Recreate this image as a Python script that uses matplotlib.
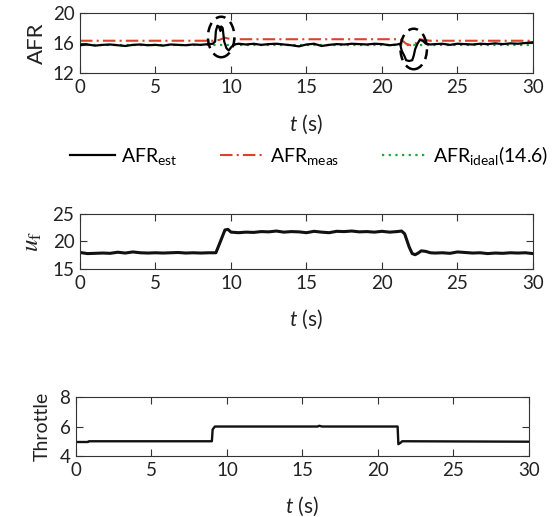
import matplotlib.pyplot as plt
from matplotlib.patches import Ellipse

# ── DATA ───────────────────────────────────────────────────
t_est = [0, 0.5, 1.0, 1.5, 2.0, 2.5, 3.0, 3.5, 4.0, 4.5, 5.0, 5.5, 6.0, 6.5,
         7.0, 7.5, 8.0, 8.5, 8.8, 8.95, 9.0, 9.1, 9.2, 9.3, 9.35, 9.45, 9.55,
         9.7, 9.85, 10.0, 10.2, 10.5, 11.0, 11.5, 12.0, 12.5, 13.0, 13.5,
         14.0, 14.5, 15.0, 15.5, 16.0, 16.5, 17.0, 17.5, 18.0, 18.5, 19.0,
         19.5, 20.0, 20.5, 21.0, 21.2, 21.3, 21.4, 21.5, 21.6, 21.8, 22.0,
         22.1, 22.2, 22.35, 22.5, 22.7, 22.9, 23.2, 23.5, 24.0, 24.5, 25.0,
         25.5, 26.0, 26.5, 27.0, 27.5, 28.0, 28.5, 29.0, 29.5, 30.0]
afr_est = [15.7, 15.8, 15.65, 15.75, 15.8, 15.7, 15.6, 15.75, 15.8, 15.7,
           15.75, 15.65, 15.8, 15.75, 15.7, 15.8, 15.75, 15.85, 15.9, 16.2,
           17.6, 18.3, 18.2, 17.6, 18.2, 18.0, 16.2, 15.3, 15.0, 15.4, 15.8,
           15.9, 15.8, 15.9, 15.75, 15.85, 15.9, 15.8, 15.7, 15.55, 15.8,
           15.9, 15.6, 15.75, 15.85, 15.8, 15.9, 15.85, 15.8, 15.9, 15.85,
           15.7, 15.8, 15.9, 15.0, 14.6, 14.2, 13.7, 13.6, 13.7, 14.3, 15.2,
           15.9, 16.4, 16.3, 15.9, 15.8, 15.85, 15.9, 15.75, 15.9, 15.85,
           15.8, 15.9, 15.85, 15.95, 15.85, 15.95, 15.9, 16.0, 16.1]

t_meas = [0, 8.8, 9.2, 9.6, 10.0, 21.0, 21.3, 21.6, 21.9, 22.2, 22.5, 22.8,
          23.2, 30]
afr_meas = [16.3, 16.3, 16.4, 16.7, 16.5, 16.5, 16.4, 15.9, 15.7, 15.9, 16.5,
            16.4, 16.3, 16.3]

t_ideal = [0, 30]
afr_ideal = [15.75, 15.75]

t_uf = [0, 0.5, 1.0, 1.5, 2.0, 2.5, 3.0, 3.5, 4.0, 4.5, 5.0, 5.5, 6.0, 6.5,
        7.0, 7.5, 8.0, 8.5, 9.0, 9.3, 9.6, 9.8, 10.0, 10.5, 11.0, 11.5, 12.0,
        12.5, 13.0, 13.5, 14.0, 14.5, 15.0, 15.5, 16.0, 16.5, 17.0, 17.5,
        18.0, 18.5, 19.0, 19.5, 20.0, 20.5, 21.0, 21.3, 21.5, 21.8, 22.0,
        22.2, 22.4, 22.6, 22.9, 23.2, 23.5, 24.0, 24.5, 25.0, 25.5, 26.0,
        26.5, 27.0, 27.5, 28.0, 28.5, 29.0, 29.5, 30.0]
uf = [18.0, 17.8, 17.85, 17.9, 17.85, 18.05, 17.9, 18.1, 17.95, 17.9, 17.95,
      17.9, 17.95, 18.0, 17.9, 17.95, 17.9, 17.95, 17.95, 20.0, 22.1, 22.2,
      21.7, 21.6, 21.7, 21.65, 21.8, 21.75, 21.9, 21.7, 21.8, 21.75, 21.6,
      21.85, 21.7, 21.6, 21.85, 21.8, 21.9, 21.75, 21.8, 21.7, 21.85, 21.7,
      21.8, 21.9, 21.4, 19.0, 17.8, 17.6, 17.9, 18.3, 18.2, 17.95, 17.9,
      17.95, 17.85, 18.1, 18.0, 17.9, 17.95, 17.8, 17.9, 17.85, 17.95, 17.9,
      17.95, 17.8]

t_thr = [0, 0.8, 0.85, 9.0, 9.05, 9.2, 16.0, 16.1, 16.3, 21.3, 21.35, 21.5,
         21.6, 22.0, 30]
throttle = [4.95, 4.95, 5.0, 5.0, 5.8, 6.0, 6.0, 6.05, 6.0, 6.0, 4.8, 4.9,
            5.0, 5.0, 4.97]

# dashed ellipses marking the transients (centre t, centre AFR, width, height)
ell_t = [9.35, 22.1]
ell_afr = [16.8, 15.2]
ell_w = [1.75, 1.75]
ell_h = [5.4, 5.4]

# ── STYLE ──────────────────────────────────────────────────
plt.rcParams["font.family"] = ["Lato", "DejaVu Sans"]
plt.rcParams["mathtext.fontset"] = "custom"
plt.rcParams["mathtext.rm"] = "Lato"
plt.rcParams["mathtext.it"] = "Lato:italic"
plt.rcParams["axes.edgecolor"] = "#333333"
plt.rcParams["xtick.color"] = "#333333"
plt.rcParams["ytick.color"] = "#333333"

fig = plt.figure(figsize=(5.57, 5.17), dpi=100)
ax1 = fig.add_axes([0.1436, 0.8588, 0.8133, 0.1161])
ax2 = fig.add_axes([0.1436, 0.4797, 0.8133, 0.1064])
ax3 = fig.add_axes([0.1364, 0.118, 0.8133, 0.114])


def style(ax, ylim, yticks):
    ax.set_xlim(0, 30)
    ax.set_ylim(*ylim)
    ax.set_xticks([0, 5, 10, 15, 20, 25, 30])
    ax.set_yticks(yticks)
    ax.tick_params(direction="in", top=True, right=True, length=5,
                   labelsize=13.5, labelcolor="#222222")
    ax.tick_params(axis="x", pad=4)
    ax.tick_params(axis="y", pad=4)
    ax.set_xlabel("$t$ (s)", fontsize=15, labelpad=12, color="#222222")


# ── AFR ────────────────────────────────────────────────────
ax1.plot(t_ideal, afr_ideal, color="#1aa83a", ls=(0, (1, 2)), lw=1.6,
         label=r"AFR$_{\mathrm{ideal}}$(14.6)", zorder=1)
ax1.plot(t_meas, afr_meas, color="#d9432a", ls=(0, (6, 2, 1, 2)), lw=1.5,
         label=r"AFR$_{\mathrm{meas}}$", zorder=2)
ax1.plot(t_est, afr_est, color="black", lw=1.6,
         label=r"AFR$_{\mathrm{est}}$", zorder=3)
for x, y, w, h in zip(ell_t, ell_afr, ell_w, ell_h):
    ax1.add_patch(Ellipse((x, y), w, h, fill=False, ec="black", lw=1.8,
                          ls=(0, (4, 2.5)), zorder=4))
style(ax1, (12, 20), [12, 16, 20])
ax1.set_ylabel("AFR", fontsize=16, labelpad=4, color="#222222")

handles, labels = ax1.get_legend_handles_labels()
order = [2, 1, 0]
fig.legend([handles[i] for i in order], [labels[i] for i in order],
           loc="center", bbox_to_anchor=(0.555, 0.70), ncol=3, frameon=False,
           fontsize=14, handlelength=2.3, handletextpad=0.3,
           columnspacing=2.2)

# ── u_f ────────────────────────────────────────────────────
ax2.plot(t_uf, uf, color="#111111", lw=2.2)
style(ax2, (15, 25), [15, 20, 25])
ax2.set_ylabel(r"$u_{\mathrm{f}}$", fontsize=18, labelpad=6,
               math_fontfamily="stix", color="#222222")

# ── Throttle ───────────────────────────────────────────────
ax3.plot(t_thr, throttle, color="#111111", lw=1.7)
style(ax3, (4, 8), [4, 6, 8])
ax3.set_ylabel("Throttle", fontsize=14, labelpad=6, color="#222222")

plt.savefig("out.png", dpi=100)
